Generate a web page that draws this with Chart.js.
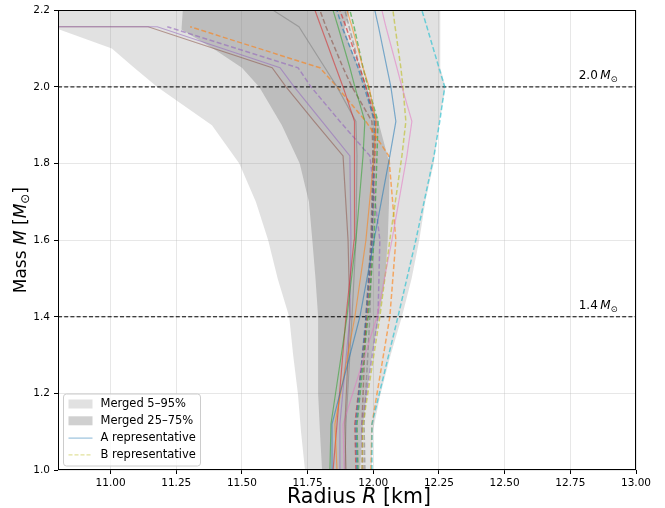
<!DOCTYPE html>
<html>
<head>
<meta charset="utf-8">
<script src="https://cdn.jsdelivr.net/npm/chart.js@4.4.1/dist/chart.umd.min.js"></script>
<style>
  html, body { margin: 0; padding: 0; background: #fff; }
</style>
</head>
<body>
<canvas id="mr" width="665" height="508"></canvas>
<script>
// mass-radius curves with merged percentile bands

// masses where the representative curves are sampled (2.157 twice: max-mass plateau)
const massGrid = [1.0, 1.12, 1.4, 1.6, 1.82, 1.91, 2.0, 2.05, 2.157, 2.157, 2.2];

// A representatives (solid), radii in km
const A_blue   = [11.843, 11.843, 11.949, 12.003, 12.063, 12.086, 12.067, 12.052, 12.020, 12.020, 12.006];
const A_orange = [11.862, 11.854, 11.930, 11.972, 12.003, 12.010, 11.984, 11.961, 11.919, 11.919, 11.900];
const A_green  = [11.835, 11.839, 11.900, 11.934, 11.961, 11.968, 11.930, 11.911, 11.866, 11.866, 11.847];
const A_red    = [11.847, 11.862, 11.896, 11.927, 11.927, 11.930, 11.885, 11.858, 11.801, 11.801, 11.778];
const A_purple = [11.873, 11.873, 11.911, 11.915, 11.911, 11.805, 11.699, 11.645, 11.178, 10.30, null];
const A_brown  = [11.896, 11.892, 11.911, 11.904, 11.885, 11.775, 11.668, 11.615, 11.143, 10.30, null];
const A_pink   = [11.889, 11.885, 12.014, 12.071, 12.128, 12.147, 12.109, 12.090, 12.048, 12.048, 12.033];
const A_gray   = [11.892, 11.896, 11.919, 11.934, 11.938, 11.934, 11.862, 11.816, 11.717, 11.717, 11.619];

// B representatives (dashed)
const B_olive  = [11.957, 11.961, 12.025, 12.063, 12.109, 12.124, 12.113, 12.105, 12.083, 12.083, 12.075];
const B_cyan   = [11.995, 11.995, 12.094, 12.162, 12.231, 12.253, 12.272, 12.250, 12.204, 12.204, 12.185];
const B_blue   = [11.938, 11.934, 11.972, 11.995, 12.003, 12.006, 11.965, 11.942, 11.881, 11.881, 11.862];
const B_orange = [11.991, 11.995, 12.063, 12.086, 12.059, 11.972, 11.862, 11.797, 11.303, 11.303, null];
const B_green  = [11.942, 11.938, 11.980, 12.003, 12.014, 12.018, 11.980, 11.961, 11.927, 11.927, 11.911];
const B_red    = [11.934, 11.930, 11.976, 11.995, 12.006, 12.010, 11.972, 11.949, 11.896, 11.896, 11.873];
const B_purple = [11.957, 11.957, 12.018, 12.025, 11.987, 11.873, 11.763, 11.714, 11.216, 11.216, null];
const B_brown  = [11.961, 11.957, 11.972, 11.991, 11.999, 11.995, 11.919, 11.885, 11.820, 11.820, 11.797];
const B_gray   = [11.968, 11.965, 11.987, 11.995, 11.999, 12.003, 11.972, 11.949, 11.908, 11.908, 11.892];

// merged percentile bands
const bandMass = [1.0, 1.1, 1.2, 1.3, 1.4, 1.5, 1.6, 1.7, 1.8, 1.9, 2.0, 2.05, 2.1, 2.15, 2.2];
const p5  = [11.740, 11.725, 11.713, 11.695, 11.680, 11.636, 11.600, 11.553, 11.490, 11.386, 11.178, 11.090, 11.005, 10.805, 10.50];
const p95 = [11.995, 11.998, 12.028, 12.066, 12.109, 12.146, 12.175, 12.198, 12.230, 12.250, 12.275, 12.255, 12.255, 12.255, 12.255];
const p25 = [11.805, 11.797, 11.790, 11.790, 11.790, 11.780, 11.768, 11.755, 11.720, 11.652, 11.566, 11.500, 11.390, 11.270, 11.275];
const p75 = [11.950, 11.958, 11.975, 11.995, 12.022, 12.045, 12.055, 12.060, 12.062, 12.023, 11.975, 11.945, 11.915, 11.890, 11.910];

const refMasses = [2.0, 1.4];
const refLabels = ['2.0', '1.4'];
const xTicks = [11.0, 11.25, 11.5, 11.75, 12.0, 12.25, 12.5, 12.75, 13.0];
const yTicks = [1.0, 1.2, 1.4, 1.6, 1.8, 2.0, 2.2];

const tab = {
    blue: '31,119,180', orange: '255,127,14', green: '44,160,44', red: '214,39,40',
    purple: '148,103,189', brown: '140,86,75', pink: '227,119,194', gray: '127,127,127',
    olive: '188,189,34', cyan: '23,190,207'
};

const curvesA = [
    ['blue', A_blue], ['orange', A_orange], ['green', A_green], ['red', A_red],
    ['purple', A_purple], ['brown', A_brown], ['pink', A_pink], ['gray', A_gray]
];
const curvesB = [
    ['olive', B_olive], ['cyan', B_cyan], ['blue', B_blue], ['orange', B_orange], ['green', B_green],
    ['red', B_red], ['purple', B_purple], ['brown', B_brown], ['gray', B_gray]
];

const FONT = '"DejaVu Sans", "Liberation Sans", sans-serif';
const lightFill = 'rgba(128,128,128,0.24)';
const darkFill = 'rgba(128,128,128,0.37)';

function toPoints(radii) {
    const pts = [];
    for (let i = 0; i < radii.length; i++) {
        if (radii[i] !== null) pts.push({ x: radii[i], y: massGrid[i] });
    }
    return pts;
}

var datasets = [];

curvesA.forEach(function (c, i) {
    datasets.push({
        label: i === 0 ? 'A representative' : '',
        data: toPoints(c[1]),
        borderColor: 'rgba(' + tab[c[0]] + ',0.55)',
        borderWidth: 1.2,
        pointRadius: 0,
        fill: false
    });
});

curvesB.forEach(function (c, i) {
    datasets.push({
        label: i === 0 ? 'B representative' : '',
        data: toPoints(c[1]),
        borderColor: 'rgba(' + tab[c[0]] + ',0.6)',
        borderWidth: 1.5,
        borderDash: [5, 2.5],
        pointRadius: 0,
        fill: false
    });
});

refMasses.forEach(function (m) {
    datasets.push({
        label: '',
        data: [{ x: 10.8, y: m }, { x: 13.0, y: m }],
        borderColor: '#000',
        borderWidth: 1,
        borderDash: [4, 2.2],
        pointRadius: 0,
        fill: false
    });
});

// percentile bands, drawn under the curves through the chart scales
const bandsPlugin = {
    id: 'bands',
    beforeDatasetsDraw(chart) {
        const c = chart.ctx, sx = chart.scales.x, sy = chart.scales.y, a = chart.chartArea;
        function band(lo, hi, color) {
            c.beginPath();
            for (let i = 0; i < bandMass.length; i++) {
                const px = sx.getPixelForValue(lo[i]), py = sy.getPixelForValue(bandMass[i]);
                if (i === 0) c.moveTo(px, py); else c.lineTo(px, py);
            }
            for (let i = bandMass.length - 1; i >= 0; i--) {
                c.lineTo(sx.getPixelForValue(hi[i]), sy.getPixelForValue(bandMass[i]));
            }
            c.closePath();
            c.fillStyle = color;
            c.fill();
        }
        c.save();
        c.beginPath();
        c.rect(a.left, a.top, a.right - a.left, a.bottom - a.top);
        c.clip();
        band(p5, p95, lightFill);
        band(p25, p75, darkFill);
        c.restore();
    }
};

function drawRich(c, parts, x, y, size, align) {
    const fontFor = st => (st === 'i' ? 'italic ' : '') + (st === 's' ? size * 0.7 : size) + 'px ' + FONT;
    let w = 0;
    parts.forEach(p => { c.font = fontFor(p[1]); w += c.measureText(p[0]).width; });
    let cx = align === 'center' ? x - w / 2 : x;
    c.textAlign = 'left';
    parts.forEach(p => {
        c.font = fontFor(p[1]);
        c.fillText(p[0], cx, p[1] === 's' ? y + size * 0.2 : y);
        cx += c.measureText(p[0]).width;
    });
}

// frame, axis titles, reference labels and the legend box
const decorPlugin = {
    id: 'decor',
    afterDraw(chart) {
        const c = chart.ctx, a = chart.chartArea, sx = chart.scales.x, sy = chart.scales.y;
        c.save();
        c.strokeStyle = '#000';
        c.lineWidth = 1;
        c.strokeRect(Math.round(a.left) + 0.5, Math.round(a.top) + 0.5,
            Math.round(a.right - a.left) - 1, Math.round(a.bottom - a.top) - 1);

        c.fillStyle = '#000';
        c.textBaseline = 'alphabetic';
        drawRich(c, [['Radius ', 'n'], ['R', 'i'], [' [km]', 'n']], (a.left + a.right) / 2 + 12, 503, 20.5, 'center');

        c.save();
        c.translate(26, (a.top + a.bottom) / 2);
        c.rotate(-Math.PI / 2);
        drawRich(c, [['Mass ', 'n'], ['M', 'i'], [' [', 'n'], ['M', 'i'], ['\u2299', 's'], [']', 'n']], 0, 0, 17, 'center');
        c.restore();

        refMasses.forEach(function (m, i) {
            drawRich(c, [[refLabels[i] + '\u2009', 'n'], ['M', 'i'], ['\u2299', 's']],
                sx.getPixelForValue(12.782), sy.getPixelForValue(m + 0.02), 12, 'left');
        });

        // legend
        const fs = 11.5;
        const lx = a.left + 5.5, ly = a.bottom - 76, lw = 137, lh = 72;
        c.beginPath();
        c.roundRect(lx, ly, lw, lh, 3);
        c.fillStyle = 'rgba(255,255,255,0.8)';
        c.fill();
        c.strokeStyle = '#cccccc';
        c.lineWidth = 1;
        c.stroke();
        const rows = [
            { t: 'Merged 5\u201395%', kind: 'patch', col: lightFill },
            { t: 'Merged 25\u201375%', kind: 'patch', col: darkFill },
            { t: 'A representative', kind: 'line', col: 'rgba(' + tab.blue + ',0.45)', dash: [] },
            { t: 'B representative', kind: 'line', col: 'rgba(' + tab.olive + ',0.45)', dash: [4, 2] }
        ];
        rows.forEach(function (r, i) {
            const cy = ly + 10 + i * 16.8;
            if (r.kind === 'patch') {
                c.fillStyle = r.col;
                c.fillRect(lx + 5, cy - 4.5, 24, 9);
            } else {
                c.beginPath();
                c.setLineDash(r.dash);
                c.strokeStyle = r.col;
                c.lineWidth = 1.2;
                c.moveTo(lx + 5, cy + 0.5);
                c.lineTo(lx + 29, cy + 0.5);
                c.stroke();
                c.setLineDash([]);
            }
            c.fillStyle = '#000';
            c.font = fs + 'px ' + FONT;
            c.textBaseline = 'middle';
            c.textAlign = 'left';
            c.fillText(r.t, lx + 37, cy + 0.5);
        });
        c.restore();
    }
};

const gridColor = 'rgba(176,176,176,0.3)';

const graph = new Chart(document.getElementById('mr'), {
    type: 'line',
    data: { datasets: datasets },
    options: {
        responsive: false,
        animation: false,
        devicePixelRatio: 1,
        layout: { padding: { left: 0, right: 29, top: 10, bottom: 0 } },
        plugins: {
            legend: { display: false },
            tooltip: { enabled: false }
        },
        elements: { line: { tension: 0 } },
        scales: {
            x: {
                type: 'linear',
                min: 10.8,
                max: 13.0,
                z: 1,
                afterBuildTicks: s => { s.ticks = xTicks.map(v => ({ value: v })); },
                afterFit: s => { s.height = 38; },
                border: { display: false },
                grid: { color: gridColor, tickColor: '#000', tickLength: 4, lineWidth: 1 },
                ticks: {
                    callback: v => Number(v).toFixed(2),
                    font: { family: FONT, size: 10.5 },
                    color: '#000',
                    padding: 3,
                    maxRotation: 0,
                    autoSkip: false
                }
            },
            y: {
                type: 'linear',
                min: 1.0,
                max: 2.2,
                z: 1,
                afterBuildTicks: s => { s.ticks = yTicks.map(v => ({ value: v })); },
                afterFit: s => { s.width = 58; },
                border: { display: false },
                grid: { color: gridColor, tickColor: '#000', tickLength: 4, lineWidth: 1 },
                ticks: {
                    callback: v => Number(v).toFixed(1),
                    font: { family: FONT, size: 10.5 },
                    color: '#000',
                    padding: 4
                }
            }
        }
    },
    plugins: [bandsPlugin, decorPlugin]
});
</script>
</body>
</html>
